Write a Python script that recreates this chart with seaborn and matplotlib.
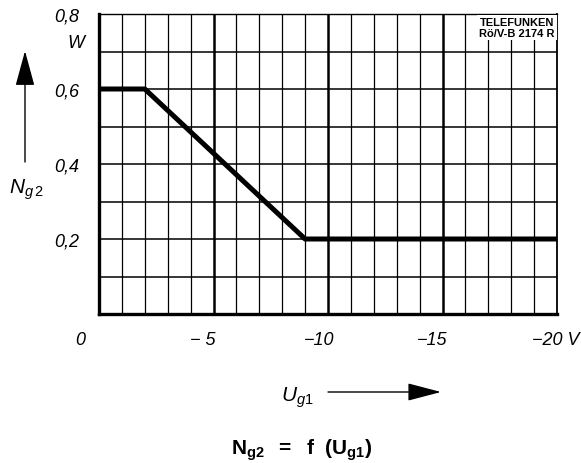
import numpy as np
import pandas as pd
import matplotlib
matplotlib.use("Agg")
import matplotlib.pyplot as plt
import seaborn as sns
from matplotlib.transforms import ScaledTranslation

# data
ug1 = [0, -2, -9, -20]
ng2 = [0.6, 0.6, 0.2, 0.2]
x_ticks = [0, -5, -10, -15, -20]
x_labels = ["0", "\u2212 5", "\u221210", "\u221215", "\u221220 V"]
y_ticks = [0.2, 0.4, 0.6, 0.8]
y_labels = ["0,2", "0,4", "0,6", "0,8"]

df = pd.DataFrame({"ug1": ug1, "ng2": ng2})

sns.set_style("white")
plt.rcParams['font.family'] = ['Liberation Sans', 'DejaVu Sans']
plt.rcParams['text.color'] = 'black'
plt.rcParams['xtick.color'] = 'black'
plt.rcParams['ytick.color'] = 'black'
plt.rcParams['mathtext.fontset'] = 'custom'
plt.rcParams['mathtext.rm'] = 'Liberation Sans'
plt.rcParams['mathtext.it'] = 'Liberation Sans:italic'
plt.rcParams['mathtext.bf'] = 'Liberation Sans:bold'

fig = plt.figure(figsize=(5.81, 4.64), dpi=100)
ax = fig.add_axes([99/581, 1-315/464, 458/581, 300/464])

# grid: 1 V and 0.1 W, heavier every 5 V
for v in np.arange(-1, -20, -1):
    ax.axvline(v, color='black', lw=1.8 if v % 5 == 0 else 0.9, zorder=1)
for w in np.arange(0.1, 0.8, 0.1):
    ax.axhline(w, color='black', lw=1.1, zorder=1)

sns.lineplot(data=df, x="ug1", y="ng2", color='black', lw=3.6, ax=ax, zorder=3)

ax.set_xlim(0, -20)
ax.set_ylim(0, 0.8)
ax.set_xlabel("")
ax.set_ylabel("")

for side, lw in zip(['left', 'bottom', 'top', 'right'], [2.4, 2.4, 1.0, 1.3]):
    ax.spines[side].set_linewidth(lw)
    ax.spines[side].set_color('black')

ax.set_xticks(x_ticks)
ax.set_xticklabels(x_labels, fontsize=13, style='italic', ha='right')
ax.set_yticks(y_ticks)
ax.set_yticklabels(y_labels, fontsize=13, style='italic')
ax.tick_params(axis='both', length=0)
ax.tick_params(axis='x', pad=12)
ax.tick_params(axis='y', pad=14)

x_off = [-14, 2, 6, 5, 22]
for lab, dx in zip(ax.get_xticklabels(), x_off):
    lab.set_transform(lab.get_transform() + ScaledTranslation(dx/100, 0, fig.dpi_scale_trans))

fig.text(76/581, 1-43/464, "W", fontsize=13, style='italic', ha='center', va='center')

ax.text(0.995, 0.99, "TELEFUNKEN\nR\u00f6/V-B 2174 R", transform=ax.transAxes,
        ha='right', va='top', fontsize=8, fontweight='bold', linespacing=1.1,
        zorder=5, bbox=dict(facecolor='white', edgecolor='none', pad=1.5))

# axis arrows and names
ax.annotate("", xy=(25/581, 1-52/464), xytext=(25/581, 1-163/464),
            xycoords='figure fraction', textcoords='figure fraction',
            arrowprops=dict(arrowstyle='-|>,head_length=2.2,head_width=0.6',
                            color='black', lw=1.0, mutation_scale=10, shrinkA=0, shrinkB=0))
ax.annotate("", xy=(441/581, 1-393/464), xytext=(328/581, 1-393/464),
            xycoords='figure fraction', textcoords='figure fraction',
            arrowprops=dict(arrowstyle='-|>,head_length=2.1,head_width=0.55',
                            color='black', lw=1.0, mutation_scale=10, shrinkA=0, shrinkB=0))
fig.text(26/581, 1-190/464, r"$\mathit{N}_{\mathit{g}\,\mathit{2}}$", fontsize=15, ha='center', va='center')
fig.text(297/581, 1-398/464, r"$\mathit{U}_{\mathit{g1}}$", fontsize=15, ha='center', va='center')

fig.text(302/581, 1-450/464, r"$\mathbf{N_{g2}\ \ =\ \ f\ \ (U_{g1})}$", fontsize=15,
         ha='center', va='center')

fig.savefig("out.png", dpi=100)
